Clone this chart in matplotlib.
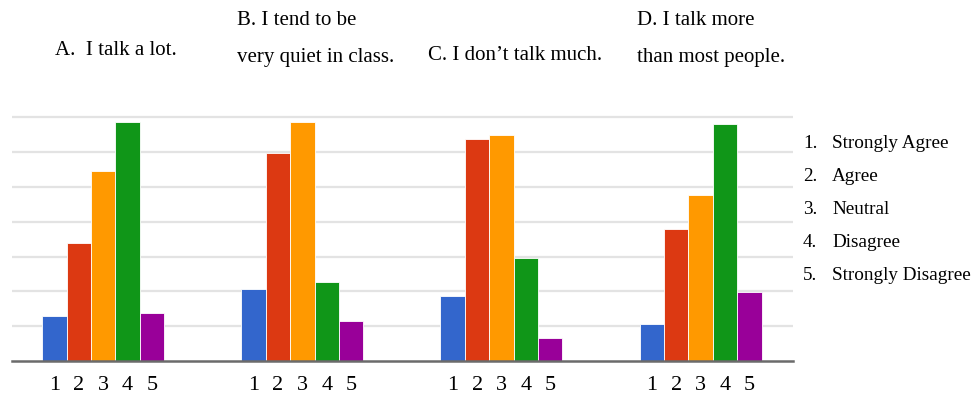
import matplotlib
matplotlib.use("Agg")
import matplotlib.pyplot as plt
import numpy as np

plt.rcParams["font.family"] = ["Liberation Serif", "DejaVu Serif"]

# Survey responses per statement (bar heights in grid units)
titles = [
    "A.  I talk a lot.",
    "B. I tend to be\nvery quiet in class.",
    "C. I don\u2019t talk much.",
    "D. I talk more\nthan most people.",
]
responses = ["1", "2", "3", "4", "5"]
legend_labels = ["Strongly Agree", "Agree", "Neutral", "Disagree", "Strongly Disagree"]

values_a = [1.29, 3.38, 5.46, 6.88, 1.39]
values_b = [2.06, 5.97, 6.88, 2.28, 1.16]
values_c = [1.88, 6.39, 6.48, 2.97, 0.66]
values_d = [1.06, 3.80, 4.78, 6.80, 1.98]
groups = [values_a, values_b, values_c, values_d]

colors = ["#3366cc", "#dc3912", "#ff9900", "#109618", "#990099"]

W, H = 974, 400
fig = plt.figure(figsize=(W / 100, H / 100), dpi=100)

# axes in pixel terms: x 12..793, baseline at y=361
ax_left, ax_right = 12, 793
ax_bottom = 361
unit_px = 34.8
ymax = 7.3
ax_top = ax_bottom - ymax * unit_px
ax = fig.add_axes([ax_left / W, 1 - ax_bottom / H,
                   (ax_right - ax_left) / W, (ax_bottom - ax_top) / H])

bar_w = 1.0
pitch = 8.16
first_center = 3.74
xmax = (ax_right - ax_left) / 24.4

tick_pos, tick_lab = [], []
for g, vals in enumerate(groups):
    center = first_center + pitch * g
    xs = center + (np.arange(len(vals)) - (len(vals) - 1) / 2) * bar_w
    ax.bar(xs, vals, width=bar_w, color=colors, edgecolor="white",
           linewidth=0.6, zorder=3)
    tick_pos.extend(xs)
    tick_lab.extend(responses)

ax.set_xlim(0, xmax)
ax.set_ylim(0, ymax)
ax.set_yticks(np.arange(1, 8))
ax.yaxis.grid(True, color="#e3e3e3", linewidth=1.6, zorder=0)
ax.tick_params(axis="y", left=False, labelleft=False)
ax.set_xticks(tick_pos)
ax.set_xticklabels(tick_lab, fontsize=16)
ax.tick_params(axis="x", length=0, pad=11)
for side in ["top", "right", "left"]:
    ax.spines[side].set_visible(False)
ax.spines["bottom"].set_color("#6b6b6b")
ax.spines["bottom"].set_linewidth(1.8)
ax.spines["bottom"].set_zorder(4)

# statement titles above each group, one line at a time
title_x = [55, 237, 428, 637]
title_line_y = [[50], [20, 57], [55], [20, 57]]
for t, x, ys in zip(titles, title_x, title_line_y):
    for line, y in zip(t.split("\n"), ys):
        fig.text(x / W, 1 - (y + 5) / H, line, fontsize=15, ha="left",
                 va="baseline")

# numbered response key on the right
for i, lab in enumerate(legend_labels):
    y = 143 + 33 * i + 5
    fig.text(803 / W, 1 - y / H, f"{i + 1}.", fontsize=13.8, ha="left", va="baseline")
    fig.text(832 / W, 1 - y / H, lab, fontsize=13.8, ha="left", va="baseline")

fig.savefig("out.png", dpi=100, facecolor="white")
